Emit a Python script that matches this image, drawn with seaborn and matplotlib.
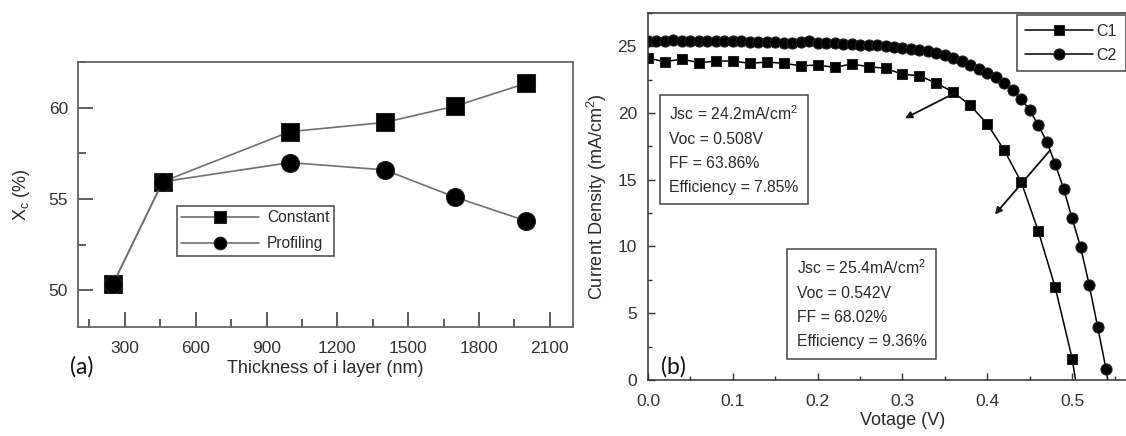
import numpy as np
import pandas as pd
import seaborn as sns
import matplotlib.pyplot as plt
from matplotlib.ticker import MultipleLocator, FormatStrFormatter, FixedLocator

#%% data
# (a) crystallinity vs i-layer thickness
thick = [250, 460, 1000, 1400, 1700, 2000]
xc_constant = [50.35, 55.95, 58.7, 59.2, 60.1, 61.35]
xc_profiling = [50.35, 55.95, 57.0, 56.6, 55.1, 53.8]

# (b) J-V curves, last point of each is where the line meets J = 0
v_c1 = [0.00, 0.02, 0.04, 0.06, 0.08, 0.10, 0.12, 0.14, 0.16, 0.18, 0.20, 0.22, 0.24,
        0.26, 0.28, 0.30, 0.32, 0.34, 0.36, 0.38, 0.40, 0.42, 0.44, 0.46, 0.48, 0.50, 0.504]
j_c1 = [24.1, 23.83, 24.03, 23.76, 23.88, 23.88, 23.71, 23.81, 23.71, 23.53, 23.58, 23.41, 23.66,
        23.46, 23.34, 22.89, 22.79, 22.22, 21.55, 20.56, 19.17, 17.2, 14.82, 11.17, 6.95, 1.61, 0.0]

v_c2 = [0.00, 0.01, 0.02, 0.03, 0.04, 0.05, 0.06, 0.07, 0.08, 0.09,
        0.10, 0.11, 0.12, 0.13, 0.14, 0.15, 0.16, 0.17, 0.18, 0.19,
        0.20, 0.21, 0.22, 0.23, 0.24, 0.25, 0.26, 0.27, 0.28, 0.29,
        0.30, 0.31, 0.32, 0.33, 0.34, 0.35, 0.36, 0.37, 0.38, 0.39,
        0.40, 0.41, 0.42, 0.43, 0.44, 0.45, 0.46, 0.47, 0.48, 0.49,
        0.50, 0.51, 0.52, 0.53, 0.54, 0.542]
j_c2 = [25.35, 25.4, 25.4, 25.45, 25.4, 25.4, 25.35, 25.4, 25.35, 25.4,
        25.4, 25.35, 25.3, 25.3, 25.3, 25.3, 25.25, 25.25, 25.3, 25.35,
        25.25, 25.2, 25.2, 25.15, 25.15, 25.1, 25.1, 25.05, 25.0, 24.95,
        24.85, 24.8, 24.7, 24.6, 24.45, 24.3, 24.1, 23.85, 23.6, 23.3,
        23.0, 22.7, 22.25, 21.7, 21.05, 20.2, 19.1, 17.85, 16.2, 14.3,
        12.1, 9.95, 7.15, 4.0, 0.8, 0.0]

v_ticks = [0.0, 0.1, 0.2, 0.3, 0.4, 0.5]

box_c1 = ['Jsc = 24.2mA/cm$^\\mathregular{2}$', 'Voc = 0.508V', 'FF = 63.86%', 'Efficiency = 7.85%']
box_c2 = ['Jsc = 25.4mA/cm$^\\mathregular{2}$', 'Voc = 0.542V', 'FF = 68.02%', 'Efficiency = 9.36%']

#%% style
sns.set_style('ticks')
plt.rcParams['font.family'] = ['Liberation Sans', 'DejaVu Sans']
plt.rcParams['text.color'] = '#2a2a2a'
plt.rcParams['axes.labelcolor'] = '#2a2a2a'
plt.rcParams['xtick.color'] = '#333333'
plt.rcParams['ytick.color'] = '#333333'
plt.rcParams['xtick.direction'] = 'in'
plt.rcParams['ytick.direction'] = 'in'

fig = plt.figure(figsize=(11.26, 4.36), dpi=100)

#%% panel (a)
ax1 = fig.add_axes([0.0690, 0.2507, 0.4402, 0.6064])
df_a = pd.DataFrame({'thick': thick, 'constant': xc_constant, 'profiling': xc_profiling})
sns.lineplot(data=df_a, x='thick', y='constant', ax=ax1, color='#707070', lw=1.2,
             marker='s', markersize=13, markerfacecolor='black', markeredgecolor='#222222',
             label='Constant')
sns.lineplot(data=df_a, x='thick', y='profiling', ax=ax1, color='#707070', lw=1.2,
             marker='o', markersize=13, markerfacecolor='black', markeredgecolor='#222222',
             label='Profiling')
ax1.set_xlim(100, 2200)
ax1.set_ylim(48, 62.5)
ax1.xaxis.set_major_locator(MultipleLocator(300))
ax1.xaxis.set_minor_locator(MultipleLocator(150))
ax1.yaxis.set_major_locator(MultipleLocator(5))
ax1.yaxis.set_minor_locator(MultipleLocator(2.5))
ax1.tick_params(which='major', length=11, width=1.1, labelsize=12.5)
ax1.tick_params(which='minor', length=6, width=1.1)
ax1.tick_params(axis='x', pad=10)
ax1.tick_params(axis='y', pad=7)
for s in ax1.spines.values():
    s.set_color('#666666')
    s.set_linewidth(1.3)
ax1.set_xlabel('Thickness of i layer (nm)', fontsize=13, labelpad=3)
ax1.set_ylabel('X$_\\mathregular{c}$ (%)', fontsize=13, labelpad=12)
leg1 = ax1.legend(loc='upper left', bbox_to_anchor=(0.2, 0.458), borderaxespad=0,
                  fontsize=11.2, frameon=True, fancybox=False, framealpha=1,
                  edgecolor='#555555', borderpad=0.3, labelspacing=0.7,
                  handlelength=5.0, handletextpad=0.5, markerscale=0.7)
leg1.get_frame().set_linewidth(1.2)

#%% panel (b)
ax2 = fig.add_axes([0.5755, 0.1284, 0.4520, 0.8424])
df_c1 = pd.DataFrame({'v': v_c1, 'j': j_c1})
df_c2 = pd.DataFrame({'v': v_c2, 'j': j_c2})
sns.lineplot(data=df_c1, x='v', y='j', ax=ax2, color='black', lw=1.1,
             marker='s', markersize=7.5, markevery=slice(0, len(v_c1) - 1),
             markeredgecolor='#222222', label='C1')
sns.lineplot(data=df_c2, x='v', y='j', ax=ax2, color='black', lw=1.1,
             marker='o', markersize=8, markevery=slice(0, len(v_c2) - 1),
             markeredgecolor='#222222', label='C2')
ax2.set_xlim(0, 0.6)
ax2.set_ylim(0, 27.5)
ax2.xaxis.set_major_locator(FixedLocator(v_ticks))
ax2.xaxis.set_minor_locator(MultipleLocator(0.05))
ax2.xaxis.set_major_formatter(FormatStrFormatter('%.1f'))
ax2.yaxis.set_major_locator(MultipleLocator(5))
ax2.yaxis.set_minor_locator(MultipleLocator(2.5))
ax2.tick_params(which='major', length=5, width=1.0, labelsize=12.5)
ax2.tick_params(which='minor', length=3, width=1.0)
ax2.tick_params(axis='x', pad=10)
ax2.tick_params(axis='y', pad=8)
for s in ax2.spines.values():
    s.set_color('#333333')
    s.set_linewidth(1.1)
ax2.set_xlabel('Votage (V)', fontsize=13, labelpad=2)
ax2.set_ylabel('Current Density (mA/cm$^\\mathregular{2}$)', fontsize=13, labelpad=6)
leg2 = ax2.legend(loc='upper left', bbox_to_anchor=(0.7244, 0.9937), borderaxespad=0,
                  fontsize=11.5, frameon=True, fancybox=False, framealpha=1,
                  edgecolor='#444444', borderpad=0.55, labelspacing=0.55,
                  handlelength=4.2, handletextpad=0.25)
leg2.get_frame().set_linewidth(1.1)

# parameter boxes
ax2.text(0.0413, 0.7514, '\n'.join(box_c1), transform=ax2.transAxes, ha='left', va='top',
         fontsize=11.3, linespacing=1.75, color='#2a2a2a',
         bbox=dict(boxstyle='square,pad=0.6', fc='white', ec='#444444', lw=1.1))
ax2.text(0.2921, 0.3303, '\n'.join(box_c2), transform=ax2.transAxes, ha='left', va='top',
         fontsize=11.3, linespacing=1.75, color='#2a2a2a',
         bbox=dict(boxstyle='square,pad=0.6', fc='white', ec='#444444', lw=1.1))

# arrows from the curves to the boxes
arrow_kw = dict(arrowstyle='-|>', color='#111111', lw=1.3, mutation_scale=10, shrinkA=0, shrinkB=0)
ax2.annotate('', xy=(0.303, 19.6), xytext=(0.362, 21.5), arrowprops=arrow_kw)
ax2.annotate('', xy=(0.409, 12.4), xytext=(0.474, 17.2), arrowprops=arrow_kw)

# panel letters
fig.text(70 / 1126, 1 - 366.5 / 436, '(a)', family=['Lato', 'DejaVu Sans'], fontsize=16.5,
         color='#111111', ha='left', va='center')
fig.text(661 / 1126, 1 - 366.5 / 436, '(b)', family=['Lato', 'DejaVu Sans'], fontsize=16.5,
         color='#111111', ha='left', va='center')

fig.savefig('out.png', dpi=100)
